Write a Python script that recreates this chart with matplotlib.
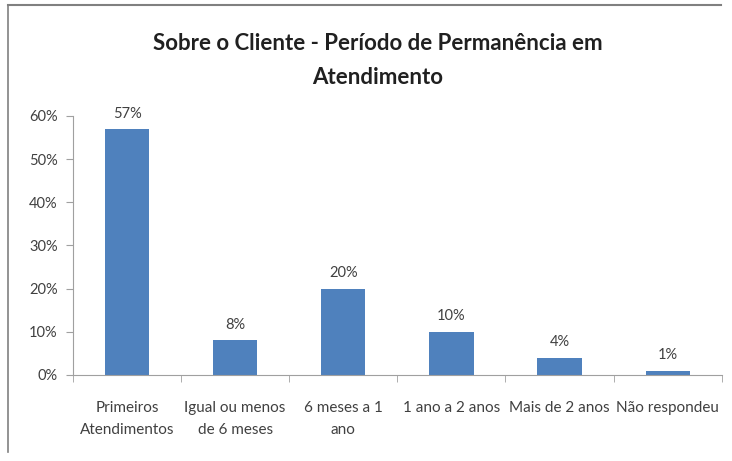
import numpy as np
import matplotlib
matplotlib.use("Agg")
import matplotlib.pyplot as plt
from matplotlib.lines import Line2D

categorias = ["Primeiros\nAtendimentos", "Igual ou menos\nde 6 meses", "6 meses a 1\nano",
              "1 ano a 2 anos", "Mais de 2 anos", "Não respondeu"]
valores = [0.57, 0.08, 0.20, 0.10, 0.04, 0.01]
rotulos = ["57%", "8%", "20%", "10%", "4%", "1%"]
yticks = [0, 0.1, 0.2, 0.3, 0.4, 0.5, 0.6]

plt.rcParams['font.family'] = ['Lato', 'DejaVu Sans']

fig = plt.figure(figsize=(7.32, 4.61), dpi=100)
ax = fig.add_axes([0.0997, 0.1866, 0.8863, 0.5618])

x = np.arange(len(categorias))
ax.bar(x, valores, width=0.41, color='#4F81BD')
for xi, v, r in zip(x, valores, rotulos):
    ax.annotate(r, (xi, v), xytext=(0, 6), textcoords='offset points',
                ha='center', va='bottom', fontsize=10.5, color='#404040')

ax.set_xlim(-0.5, len(categorias) - 0.5)
ax.set_ylim(0, 0.6)
ax.set_yticks(yticks)
ax.set_yticklabels(["%d%%" % round(t * 100) for t in yticks], fontsize=10.5, color='#404040')
ax.set_xticks(x)
ax.set_xticklabels(categorias, fontsize=11, color='#404040', linespacing=1.65)
ax.set_xticks(np.arange(-0.5, len(categorias)), minor=True)
ax.tick_params(axis='x', which='major', length=0, pad=19)
ax.tick_params(axis='x', which='minor', length=5, color='#A0A0A0')
ax.tick_params(axis='y', length=5, color='#A0A0A0', pad=6)

for s in ['top', 'right']:
    ax.spines[s].set_visible(False)
for s in ['left', 'bottom']:
    ax.spines[s].set_color('#A0A0A0')

fig.text(0.516, 0.869, "Sobre o Cliente - Período de Permanência em\nAtendimento",
         ha='center', va='center', fontsize=16, fontweight='bold', color='#202020',
         linespacing=1.75)

# moldura
fig.add_artist(Line2D([0.011, 0.985], [0.989, 0.989], color='#808080', lw=1.5))
fig.add_artist(Line2D([0.011, 0.011], [0.989, 0.02], color='#808080', lw=1.2))

fig.savefig("out.png", dpi=100)
